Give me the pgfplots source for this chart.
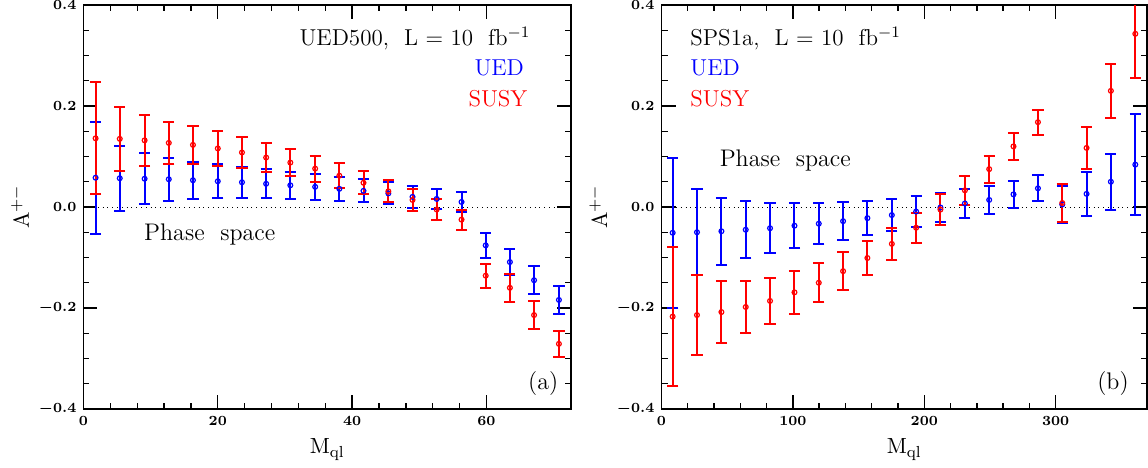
\documentclass[border=0pt]{standalone}
\usepackage{pgfplots}
\usepackage{pgfplotstable}
\pgfplotsset{compat=1.18}

% left panel: UED500
\pgfplotstableread{
x     y      e
1.8   0.058  0.111
5.4   0.057  0.064
9.1   0.056  0.050
12.7  0.055  0.043
16.3  0.053  0.037
20.0  0.051  0.034
23.6  0.049  0.031
27.2  0.046  0.029
30.8  0.043  0.027
34.5  0.040  0.026
38.1  0.036  0.024
41.7  0.032  0.023
45.4  0.027  0.022
49.0  0.020  0.021
52.6  0.016  0.020
56.3  0.010  0.019
59.9  -0.076 0.025
63.5  -0.109 0.026
67.1  -0.145 0.028
70.8  -0.184 0.027
}\uedA
\pgfplotstableread{
x     y      e
1.8   0.136  0.111
5.4   0.135  0.064
9.1   0.132  0.050
12.7  0.127  0.042
16.3  0.123  0.037
20.0  0.116  0.034
23.6  0.108  0.031
27.2  0.098  0.029
30.8  0.088  0.027
34.5  0.076  0.026
38.1  0.062  0.025
41.7  0.048  0.023
45.4  0.031  0.022
49.0  0.014  0.021
52.6  -0.005 0.020
56.3  -0.025 0.020
59.9  -0.136 0.024
63.5  -0.160 0.028
67.1  -0.214 0.028
70.8  -0.271 0.026
}\susyA
% right panel: SPS1a
\pgfplotstableread{
x      y      e
8.5    -0.051 0.149
27.0   -0.050 0.085
45.6   -0.048 0.066
64.1   -0.045 0.056
82.6   -0.042 0.049
101.2  -0.037 0.044
119.7  -0.033 0.040
138.2  -0.028 0.037
156.7  -0.022 0.034
175.3  -0.016 0.032
193.8  -0.009 0.030
212.3  -0.001 0.029
230.9  0.007  0.028
249.4  0.014  0.027
267.9  0.025  0.026
286.5  0.037  0.026
305.0  0.005  0.037
323.5  0.026  0.043
342.0  0.050  0.055
360.6  0.084  0.100
}\uedB
\pgfplotstableread{
x      y      e
8.5    -0.217 0.138
27.0   -0.214 0.080
45.6   -0.208 0.062
64.1   -0.198 0.052
82.6   -0.186 0.046
101.2  -0.169 0.042
119.7  -0.150 0.039
138.2  -0.127 0.037
156.7  -0.101 0.034
175.3  -0.073 0.032
193.8  -0.041 0.030
212.3  -0.005 0.030
230.9  0.033  0.029
249.4  0.075  0.027
267.9  0.120  0.026
286.5  0.168  0.025
305.0  0.008  0.037
323.5  0.117  0.042
342.0  0.230  0.053
360.6  0.343  0.088
}\susyB

\pgfplotsset{
  asym/.style={
    scale only axis, height=202pt,
    ymin=-0.4, ymax=0.4,
    ytick={-0.4,-0.2,0,0.2,0.4}, minor y tick num=3,
    minor x tick num=4,
    axis line style={line width=0.9pt},
    major tick length=7pt, minor tick length=3pt,
    every tick/.style={line width=0.7pt, black},
    tick align=inside,
    ticklabel style={font=\boldmath\fontsize{7.5}{8}\selectfont},
    yticklabel style={/pgf/number format/.cd, fixed, fixed zerofill, precision=1},
    xlabel={$\mathrm{M_{ql}}$}, ylabel={$\mathrm{A^{+-}}$},
    label style={font=\fontsize{11}{13}\selectfont},
    xlabel style={at={(axis description cs:0.5,-0.1)}, anchor=center},
    ylabel style={at={(axis description cs:-0.13,0.5)}, anchor=center},
    clip=true,
  },
  ebar/.style={only marks, color=#1, mark=o, mark size=1.2pt,
    mark options={solid, draw=#1, line width=0.6pt},
    error bars/.cd, y dir=both, y explicit,
    error bar style={solid, color=#1, line width=1pt},
    error mark options={solid, color=#1, rotate=90, mark size=2.8pt, line width=1pt}},
}

\begin{document}
\begin{tikzpicture}[font=\fontsize{11.5}{13}\selectfont]
\path[use as bounding box] (0,0) rectangle (574pt,233.5pt);

\begin{axis}[asym, at={(41.75pt,29pt)}, anchor=south west, width=243.75pt,
  xmin=0, xmax=72.6, xtick={0,20,40,60}]
\addplot[black, dotted, thin] coordinates {(0,0) (72.6,0)};
\addplot[ebar=blue] table[x=x, y=y, y error=e] {\uedA};
\addplot[ebar=red] table[x=x, y=y, y error=e] {\susyA};
\node[anchor=base east] at (axis description cs:0.931,0.899) {UED500, \ L = 10 \ fb$^{-1}$};
\node[anchor=base east, text=blue] at (axis description cs:0.918,0.825) {UED};
\node[anchor=base east, text=red] at (axis description cs:0.925,0.749) {SUSY};
\node[font=\fontsize{12}{14}\selectfont] at (axis description cs:0.259,0.433) {Phase \ space};
\node[font=\fontsize{12}{14}\selectfont] at (axis description cs:0.943,0.064) {(a)};
\end{axis}

\begin{axis}[asym, at={(330.75pt,29pt)}, anchor=south west, width=242.75pt,
  xmin=0, xmax=369.5, xtick={0,100,200,300}]
\addplot[black, dotted, thin] coordinates {(0,0) (369.5,0)};
\addplot[ebar=blue] table[x=x, y=y, y error=e] {\uedB};
\addplot[ebar=red] table[x=x, y=y, y error=e] {\susyB};
\node[anchor=base west] at (axis description cs:0.045,0.899) {SPS1a, \ L = 10 \ fb$^{-1}$};
\node[anchor=base west, text=blue] at (axis description cs:0.045,0.825) {UED};
\node[anchor=base west, text=red] at (axis description cs:0.045,0.749) {SUSY};
\node[font=\fontsize{12}{14}\selectfont] at (axis description cs:0.255,0.616) {Phase \ space};
\node[font=\fontsize{12}{14}\selectfont] at (axis description cs:0.93,0.064) {(b)};
\end{axis}
\end{tikzpicture}
\end{document}
